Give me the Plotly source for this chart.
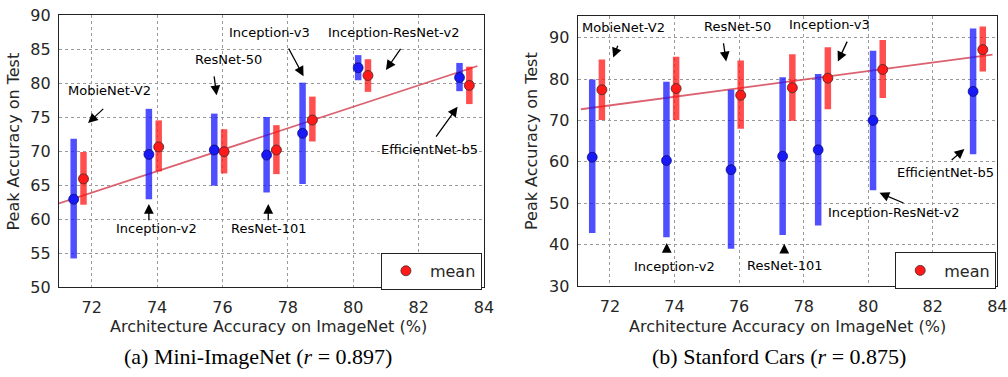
import plotly.graph_objects as go

# ---------------- data ----------------
models = ["MobieNet-V2", "Inception-v2", "ResNet-50", "ResNet-101",
          "Inception-v3", "Inception-ResNet-v2", "EfficientNet-b5"]
imagenet_acc = [71.6, 73.9, 75.9, 77.5, 78.6, 80.3, 83.4]

# Mini-ImageNet
mini_blue_pt = [62.9, 69.5, 70.15, 69.4, 72.6, 82.25, 80.8]
mini_blue_hi = [71.8, 76.2, 75.5, 75.0, 80.05, 84.1, 82.95]
mini_blue_lo = [54.2, 62.9, 64.9, 63.9, 65.15, 80.4, 78.8]
mini_red_pt = [65.9, 70.6, 69.9, 70.15, 74.55, 81.1, 79.65]
mini_red_hi = [69.85, 74.5, 73.2, 73.8, 78.0, 83.5, 82.4]
mini_red_lo = [62.1, 67.0, 66.7, 66.6, 71.4, 78.7, 76.9]
mini_fit_x = [71.0, 83.8]
mini_fit_y = [62.3, 82.5]

# Stanford Cars
cars_blue_pt = [61.1, 60.3, 58.1, 61.35, 62.9, 70.0, 77.0]
cars_blue_hi = [79.9, 79.35, 77.4, 80.4, 81.2, 86.8, 92.2]
cars_blue_lo = [42.8, 41.8, 39.0, 42.3, 44.6, 53.1, 61.8]
cars_red_pt = [77.4, 77.7, 76.1, 77.9, 80.2, 82.3, 87.1]
cars_red_hi = [84.7, 85.4, 84.5, 86.0, 87.7, 89.4, 92.7]
cars_red_lo = [70.1, 70.1, 68.0, 69.9, 72.7, 75.4, 81.8]
cars_fit_x = [71.1, 83.85]
cars_fit_y = [72.7, 85.9]

x_ticks = [72, 74, 76, 78, 80, 82, 84]
mini_y_ticks = [50, 55, 60, 65, 70, 75, 80, 85, 90]
cars_y_ticks = [30, 40, 50, 60, 70, 80, 90]

# ---------------- styles ----------------
OFF = 0.15
FONT = "DejaVu Sans"
TXT = "#262626"
BLUE_BAR = "rgba(20,20,255,0.75)"
RED_BAR = "rgba(255,20,20,0.75)"
BLUE_DOT = "rgb(25,25,245)"
RED_DOT = "rgb(255,25,25)"
FIT = "rgba(215,80,95,0.9)"

fig = go.Figure()


def add_panel(xa, ya, bpt, bhi, blo, rpt, rhi, rlo, fx, fy, legend):
    bx = [v - OFF for v in imagenet_acc]
    rx = [v + OFF for v in imagenet_acc]
    fig.add_trace(go.Scatter(
        x=fx, y=fy, mode="lines", line=dict(color=FIT, width=1.8),
        xaxis=xa, yaxis=ya, showlegend=False, hoverinfo="skip"))
    fig.add_trace(go.Scatter(
        x=bx, y=bpt, mode="markers", xaxis=xa, yaxis=ya, showlegend=False,
        marker=dict(size=10, color=BLUE_DOT, line=dict(color="rgba(0,0,90,0.6)", width=1)),
        error_y=dict(type="data", symmetric=False,
                     array=[h - p for h, p in zip(bhi, bpt)],
                     arrayminus=[p - l for p, l in zip(bpt, blo)],
                     color=BLUE_BAR, thickness=6.5, width=0),
        text=models, name="blue"))
    fig.add_trace(go.Scatter(
        x=rx, y=rpt, mode="markers", xaxis=xa, yaxis=ya, showlegend=True,
        legend=legend, name="mean",
        marker=dict(size=10, color=RED_DOT, line=dict(color="rgba(70,40,40,0.8)", width=1)),
        error_y=dict(type="data", symmetric=False,
                     array=[h - p for h, p in zip(rhi, rpt)],
                     arrayminus=[p - l for p, l in zip(rpt, rlo)],
                     color=RED_BAR, thickness=6.5, width=0),
        text=models))


add_panel("x", "y", mini_blue_pt, mini_blue_hi, mini_blue_lo,
          mini_red_pt, mini_red_hi, mini_red_lo, mini_fit_x, mini_fit_y, "legend")
add_panel("x2", "y2", cars_blue_pt, cars_blue_hi, cars_blue_lo,
          cars_red_pt, cars_red_hi, cars_red_lo, cars_fit_x, cars_fit_y, "legend2")

axis_common = dict(
    showline=True, linecolor="#222", linewidth=1.2, mirror=True,
    showgrid=True, gridcolor="#9a9a9a", griddash="dot", gridwidth=1,
    zeroline=False, ticks="", automargin=False,
    tickfont=dict(family=FONT, size=16, color=TXT),
)

fig.update_layout(
    width=1008, height=377, autosize=False,
    margin=dict(l=0, r=0, t=0, b=0, pad=0, autoexpand=False),
    paper_bgcolor="white", plot_bgcolor="white",
    font=dict(family=FONT, color=TXT),
    xaxis=dict(domain=[0.0585, 0.4802], range=[71, 84], tickvals=x_ticks,
               anchor="y", ticklabelstandoff=6, **axis_common),
    yaxis=dict(domain=[0.2387, 0.9602], range=[50, 90], tickvals=mini_y_ticks,
               anchor="x", ticklabelstandoff=4, **axis_common),
    xaxis2=dict(domain=[0.5731, 0.9894], range=[71, 84], tickvals=x_ticks,
                anchor="y2", ticklabelstandoff=6, **axis_common),
    yaxis2=dict(domain=[0.2414, 0.9584], range=[30, 95.3], tickvals=cars_y_ticks,
                anchor="x2", ticklabelstandoff=4, **axis_common),
    legend=dict(x=0.3777, y=0.3297, xanchor="left", yanchor="top",
                bgcolor="white", bordercolor="#222", borderwidth=1.2,
                font=dict(family=FONT, size=16, color=TXT), itemwidth=38),
    legend2=dict(x=0.8879, y=0.3308, xanchor="left", yanchor="top",
                 bgcolor="white", bordercolor="#222", borderwidth=1.2,
                 font=dict(family=FONT, size=16, color=TXT), itemwidth=38),
)

# labelled arrows: (label, text_x, text_y, tail_x, tail_y, tip_x, tip_y)
mini_labels = [
    ("MobieNet-V2", 72.55, 78.9, 72.4, 76.4, 71.89, 74.1),
    ("Inception-v2", 73.98, 58.6, 73.75, 59.6, 73.75, 62.2),
    ("ResNet-50", 76.19, 83.5, 75.74, 81.2, 75.82, 78.2),
    ("ResNet-101", 77.43, 58.6, 77.4, 59.6, 77.4, 62.2),
    ("Inception-v3", 77.43, 87.45, 78.0, 85.3, 78.48, 81.0),
    ("Inception-ResNet-v2", 81.22, 87.45, 81.48, 85.25, 81.0, 81.9),
    ("EfficientNet-b5", 82.32, 70.15, 82.5, 71.9, 83.19, 76.5),
]
cars_labels = [
    ("MobieNet-V2", 72.41, 92.4, 72.26, 88.4, 72.1, 85.2),
    ("ResNet-50", 75.96, 92.8, 75.51, 89.0, 75.6, 84.25),
    ("Inception-v3", 78.8, 93.1, 79.37, 89.4, 79.06, 84.25),
    ("Inception-v2", 73.99, 34.8, 73.76, 38.4, 73.76, 40.4),
    ("ResNet-101", 77.42, 35.0, 77.4, 38.6, 77.4, 40.2),
    ("Inception-ResNet-v2", 80.78, 47.85, 81.14, 49.9, 80.35, 52.5),
    ("EfficientNet-b5", 82.4, 57.35, 82.54, 60.15, 82.98, 63.1),
]

annotations = []
for labels, xr, yr in ((mini_labels, "x", "y"), (cars_labels, "x2", "y2")):
    for lab, tx, ty, ax_, ay_, px, py in labels:
        annotations.append(dict(x=tx, y=ty, xref=xr, yref=yr, text=lab,
                                xanchor="center", yanchor="middle",
                                showarrow=False, font=dict(family=FONT, size=13, color="black")))
        annotations.append(dict(x=px, y=py, xref=xr, yref=yr, ax=ax_, ay=ay_,
                                axref=xr, ayref=yr, text="", showarrow=True,
                                arrowhead=2, arrowsize=1.5, arrowwidth=1.3,
                                arrowcolor="black", standoff=0, startstandoff=0))

# page-level texts, positions given in pixels of the 1008x377 page
page_texts = [
    (13, 141.5, "Peak Accuracy on Test", -90, FONT, 16, TXT),
    (531.5, 141.5, "Peak Accuracy on Test", -90, FONT, 16, TXT),
    (268, 326, "Architecture Accuracy on ImageNet (%)", 0, FONT, 16, TXT),
    (787, 326, "Architecture Accuracy on ImageNet (%)", 0, FONT, 16, TXT),
    (258, 356, "(a) Mini-ImageNet (<i>r</i> = 0.897)", 0, "Liberation Serif", 22, "black"),
    (779, 356, "(b) Stanford Cars (<i>r</i> = 0.875)", 0, "Liberation Serif", 22, "black"),
]
for px_, py_, txt, ang, fam, sz, col in page_texts:
    annotations.append(dict(x=px_ / 1008, y=1 - py_ / 377, xref="paper", yref="paper",
                            text=txt, textangle=ang, showarrow=False,
                            xanchor="center", yanchor="middle",
                            font=dict(family=fam, size=sz, color=col)))

fig.update_layout(annotations=annotations)
fig.write_html("out.html")
